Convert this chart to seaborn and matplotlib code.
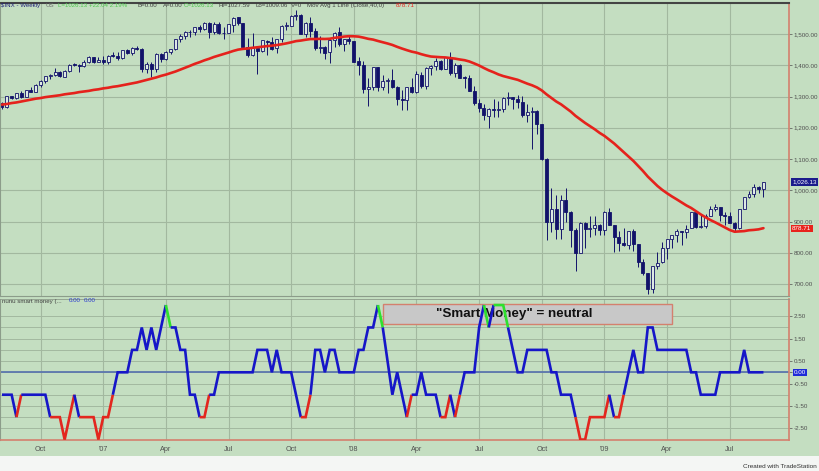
import matplotlib
matplotlib.use("Agg")
import matplotlib.pyplot as plt
import matplotlib.transforms as mtransforms
from matplotlib.patches import Rectangle
import numpy as np
import pandas as pd
import seaborn as sns

# weekly $INX bars, Aug 2006 - Aug 2009
closes = [1266.74, 1302.30, 1295.09, 1311.01, 1298.92, 1319.66, 1314.78, 1335.85, 1349.59, 1365.62,
          1368.60, 1377.34, 1364.30, 1380.90, 1401.20, 1400.95, 1396.71, 1409.84, 1427.09, 1410.76, 1418.30,
          1409.71, 1430.73, 1430.50, 1422.18, 1448.39, 1438.06, 1455.54, 1451.19, 1387.17, 1402.84,
          1386.95, 1436.11, 1420.86, 1443.76, 1452.85, 1484.35, 1494.07, 1505.62, 1505.85, 1522.75,
          1515.73, 1536.34, 1507.67, 1532.91, 1502.56, 1503.35, 1530.44, 1552.50, 1534.10, 1458.95,
          1433.06, 1453.64, 1445.94, 1479.37, 1473.99, 1453.55, 1484.25, 1525.75, 1526.75, 1557.59,
          1561.80, 1500.63, 1535.28, 1509.65, 1453.70, 1458.74, 1440.70, 1481.14, 1504.66, 1467.95,
          1484.46, 1478.49,
          1411.63, 1401.02, 1325.19, 1330.61, 1395.42, 1331.29, 1349.99, 1353.11, 1330.63, 1293.37,
          1288.14, 1329.51, 1315.22, 1370.40, 1332.83, 1390.33, 1397.84, 1413.90, 1388.28, 1425.35,
          1375.93, 1400.38, 1360.68, 1360.03, 1317.93, 1278.38, 1262.90, 1239.49, 1260.68, 1257.76,
          1260.31, 1296.32, 1298.20, 1292.20, 1282.83, 1242.31, 1251.70, 1255.08, 1213.27, 1099.23,
          899.22, 940.55, 876.77, 968.75, 930.99, 873.29, 800.03, 896.24, 876.07, 879.73, 887.88, 872.80,
          931.80, 890.35, 850.12, 831.95, 825.88, 868.60, 826.84, 770.05, 735.09, 683.38, 756.55,
          768.54, 815.94, 842.50, 856.56, 869.60, 866.23, 877.52, 929.23, 882.88, 887.00, 919.14,
          940.09, 946.21, 921.23, 918.90, 896.42, 879.13, 940.38, 979.26, 987.48, 1010.48, 1004.09, 1026.13]

opens = [1280, 1267, 1302, 1295, 1311, 1299, 1320, 1315, 1336, 1350, 1366, 1369, 1377, 1364, 1381,
         1401, 1401, 1397, 1410, 1427, 1411,
         1418, 1410, 1431, 1431, 1422, 1448, 1438, 1456, 1451, 1387, 1403, 1387, 1436, 1421, 1444,
         1453, 1484, 1494, 1506, 1506, 1523, 1516, 1536, 1508, 1533, 1503, 1503, 1530, 1553, 1534,
         1459, 1433, 1454, 1446, 1479, 1474, 1454, 1484, 1526, 1527, 1558, 1562, 1501, 1535, 1510,
         1454, 1459, 1441, 1481, 1505, 1468, 1484,
         1478, 1412, 1401, 1325, 1331, 1395, 1331, 1350, 1353, 1331, 1293, 1288, 1330, 1315, 1370,
         1333, 1390, 1398, 1414, 1388, 1425, 1376, 1400, 1361, 1360, 1318, 1278, 1263, 1239, 1261,
         1258, 1260, 1296, 1298, 1292, 1283, 1242, 1252, 1255, 1213, 1099, 899, 941, 877, 969, 931,
         873, 800, 896, 876, 880, 888,
         873, 932, 890, 850, 832, 826, 869, 827, 770, 735, 683, 757, 769, 816, 843, 857, 870, 866,
         878, 929, 883, 887, 919, 940, 946, 921, 919, 896, 879, 940, 979, 987, 1010, 1004]

highs = [1283, 1303, 1303, 1312, 1318, 1322, 1329, 1340, 1352, 1366, 1371, 1390, 1382, 1385, 1403,
         1407, 1403, 1416, 1431, 1428, 1427,
         1429, 1432, 1441, 1441, 1449, 1453, 1457, 1461, 1456, 1410, 1410, 1438, 1438, 1445, 1453,
         1485, 1499, 1511, 1514, 1523, 1529, 1540, 1540, 1539, 1537, 1521, 1532, 1556, 1556, 1534,
         1488, 1503, 1456, 1481, 1481, 1489, 1485, 1530, 1539, 1561, 1576, 1563, 1537, 1553, 1520,
         1493, 1461, 1488, 1508, 1523, 1485, 1498,
         1479, 1426, 1414, 1358, 1396, 1396, 1368, 1359, 1388, 1335, 1321, 1331, 1359, 1381, 1380,
         1395, 1400, 1422, 1416, 1426, 1441, 1406, 1405, 1366, 1370, 1333, 1291, 1277, 1263, 1291,
         1285, 1300, 1314, 1298, 1304, 1303, 1275, 1265, 1256, 1213, 1102, 1006, 985, 984, 1007, 934,
         880, 897, 897, 918, 918, 892,
         934, 943, 890, 871, 878, 870, 876, 828, 780, 735, 758, 804, 833, 845, 857, 875, 871, 889,
         930, 930, 924, 923, 951, 956, 947, 930, 931, 898, 941, 980, 997, 1019, 1013, 1028]

lows = [1261, 1263, 1291, 1292, 1294, 1298, 1313, 1313, 1331, 1344, 1356, 1365, 1361, 1362, 1378,
        1397, 1378, 1394, 1406, 1407, 1410,
        1404, 1403, 1426, 1416, 1420, 1436, 1433, 1448, 1380, 1375, 1364, 1380, 1412, 1417, 1435,
        1450, 1476, 1483, 1491, 1498, 1505, 1513, 1487, 1499, 1500, 1484, 1503, 1506, 1529, 1458,
        1427, 1429, 1371, 1444, 1432, 1450, 1439, 1474, 1514, 1527, 1546, 1500, 1490, 1492, 1450,
        1438, 1420, 1406, 1460, 1462, 1446, 1468,
        1411, 1370, 1312, 1270, 1322, 1317, 1320, 1312, 1326, 1272, 1257, 1256, 1312, 1312, 1328,
        1324, 1370, 1384, 1384, 1388, 1370, 1364, 1358, 1327, 1317, 1274, 1252, 1225, 1200, 1235,
        1235, 1249, 1274, 1261, 1263, 1236, 1217, 1133, 1180, 1098, 840, 866, 845, 845, 899, 818,
        741, 798, 815, 851, 857, 857,
        858, 888, 804, 805, 821, 812, 807, 754, 729, 667, 672, 748, 766, 779, 814, 835, 826, 847,
        878, 878, 879, 878, 919, 935, 903, 888, 896, 869, 875, 940, 974, 979, 991, 979]

# Mov Avg 1 Line (Close, 40)
ma40 = [1274, 1276, 1279, 1281, 1284, 1287, 1290, 1293, 1295, 1298, 1300, 1302, 1304, 1307, 1309,
        1311, 1314, 1316, 1318, 1321, 1323, 1326, 1328, 1331, 1333, 1336, 1339, 1342, 1345, 1349,
        1353, 1357, 1361, 1366, 1370, 1375, 1380, 1386, 1392, 1398.1,
        1404.5, 1409.8, 1415.8, 1420.8, 1426.6, 1431.2, 1435.9, 1440.7, 1445.8, 1450.0,
        1452.3, 1453.7, 1455.9, 1457.5, 1459.5, 1461.3, 1462.7, 1464.6, 1467.1, 1470.0,
        1473.4, 1477.2, 1479.0, 1481.6, 1483.8, 1483.9, 1484.5, 1484.1, 1484.8, 1487.8,
        1489.4, 1491.8, 1492.9, 1492.7, 1491.6, 1488.4, 1484.6, 1482.1, 1477.7, 1473.8,
        1469.6, 1465.0, 1458.9, 1453.4, 1448.3, 1443.6, 1440.3, 1435.4, 1431.3, 1427.9,
        1426.8, 1425.7, 1425.0, 1423.2, 1421.2, 1418.4, 1416.1, 1411.9, 1405.7, 1399.1,
        1391.2, 1383.7, 1377.6, 1370.7, 1365.4, 1361.5, 1357.3, 1353.4, 1347.4, 1341.1,
        1335.8, 1329.0, 1319.5, 1306.7, 1295.2, 1284.0, 1274.9, 1263.3, 1251.9, 1238.1,
        1226.7, 1215.3, 1205.0, 1195.0, 1183.6, 1174.0, 1162.0, 1149.9, 1136.0, 1121.7,
        1108.0, 1094.0, 1077.6, 1061.6, 1043.7, 1028.6, 1013.8, 1001.2, 990.3, 980.2,
        970.9, 961.0, 951.5, 943.3, 932.9, 922.6, 913.3, 904.7, 897.3, 889.1,
        880.7, 872.8, 867.3, 868.3, 869.3, 872.0, 873.1, 874.9, 878.7]

# nunu smart money indicator
smart_money = [-1, -1, -1, -2, -1, -1, -1, -1, -1, -1,
               -2, -2, -2, -3, -2, -1, -2, -2, -2, -2,
               -3, -2, -2, -1, 0, 0, 0, 1, 1, 2,
               1, 2, 1, 2, 3, 2, 2, 1, 1, -1,
               -1, -2, -2, -1, -1, 0, 0, 0, 0, 0,
               0, 0, 0, 1, 1, 1, 0, 1, 0, 0,
               0, -1, -2, -2, -1, 1, 1, 0, 1, 1,
               0, 0, 0, 0, 1, 1, 2, 2, 3, 2,
               0.5, -1, 0, -1, -2, -1, -1, 0, -1, -1,
               -1, -2, -2, -1, -2, -1, 0, 0, 0, 2,
               3, 2, 3, 3, 3, 2, 1, 0, 0, 1,
               1, 1, 1, 1, 0, 0, -1, -1, -1, -2,
               -3, -3, -2, -2, -2, -2, -1, -2, -2, -1,
               0, 1, 0, 0, 2, 2, 1, 1, 1, 1,
               1, 1, 1, 0, 0, -1, -1, -1, -1, 0,
               0, 0, 0, 0, 1, 0, 0, 0, 0]

tick_pos = [8, 21, 34, 47, 60, 73, 86, 99, 112, 125, 138, 151]
tick_labels = ["Oct", "'07", "Apr", "Jul", "Oct", "'08", "Apr", "Jul", "Oct", "'09", "Apr", "Jul"]
price_ticks = [700, 800, 900, 1000, 1100, 1200, 1300, 1400, 1500]
sm_ticks = [2.5, 1.5, 0.5, 0.0, -0.5, -1.5, -2.5]

df = pd.DataFrame({"week": np.arange(len(closes)), "open": opens, "high": highs,
                   "low": lows, "close": closes, "ma": ma40, "sm": smart_money})

BG = "#c4dec1"
GRID = "#a2b89f"
NAVY = "#12126a"
EDGE_RED = "#d4806e"

sns.set_style("white")
plt.rcParams["font.family"] = ["Liberation Sans", "DejaVu Sans"]

W, H = 820, 471
fig = plt.figure(figsize=(W / 100, H / 100), dpi=100)
fig.patch.set_facecolor(BG)

def fx(px):
    return px / W

def fy(py):
    return 1 - py / H

ax1 = fig.add_axes([0, fy(296), fx(789), (296 - 3) / H])
ax2 = fig.add_axes([0, fy(440), fx(789), (440 - 299) / H])

xlim = (-0.415, 163.3)

# ---- price panel ----
ax1.set_facecolor(BG)
ax1.set_xlim(*xlim)
ax1.set_ylim(661.6, 1599.2)
for p in price_ticks:
    ax1.axhline(p, color=GRID, lw=0.8, zorder=0)
for t in tick_pos:
    ax1.axvline(t, color=GRID, lw=0.8, zorder=0)

up = df["close"] >= df["open"]
ax1.vlines(df["week"], df["low"], df["high"], color=NAVY, lw=0.7, zorder=2)
body_bot = np.minimum(df["open"], df["close"])
body_h = np.maximum(np.abs(df["close"] - df["open"]), 1.5)
ax1.bar(df["week"], body_h, bottom=body_bot, width=0.62,
        color=np.where(up, "#dde9e4", NAVY), edgecolor=NAVY, lw=0.6, zorder=3)
sns.lineplot(data=df, x="week", y="ma", ax=ax1, color="#e5221c", lw=1.9, zorder=4)

ax1.yaxis.tick_right()
ax1.set_yticks(price_ticks)
ax1.set_yticklabels([f"{p:,.2f}" for p in price_ticks])
ax1.tick_params(axis="y", labelsize=4.5, colors="#505050", length=2, pad=1.5, width=0.5)
ax1.set_xticks(tick_pos)
ax1.tick_params(axis="x", length=0, labelbottom=False)
ax1.set_xlabel("")
ax1.set_ylabel("")
for s in ["left", "bottom"]:
    ax1.spines[s].set_color("#8c9c8a")
    ax1.spines[s].set_linewidth(0.8)
ax1.spines["top"].set_color("#444444")
ax1.spines["top"].set_linewidth(1.5)
ax1.spines["right"].set_color(EDGE_RED)
ax1.spines["right"].set_linewidth(1.2)

tr1 = mtransforms.blended_transform_factory(ax1.transAxes, ax1.transData)
ax1.text(1.004, closes[-1], f"{closes[-1]:,.2f}", transform=tr1, fontsize=4.5, color="white",
         va="center", ha="left", bbox=dict(facecolor="#1b1b8c", edgecolor="none", pad=0.8), zorder=6)
ax1.text(1.004, ma40[-1] + 0.01, "878.71", transform=tr1, fontsize=4.5, color="white",
         va="center", ha="left", bbox=dict(facecolor="#e8231c", edgecolor="none", pad=0.8), zorder=6)

# ---- smart money panel ----
ax2.set_facecolor(BG)
ax2.set_xlim(*xlim)
ax2.set_ylim(-3.02, 3.27)
for g in np.arange(-2.5, 3.0, 0.5):
    ax2.axhline(g, color=GRID, lw=0.7, zorder=0)
for t in tick_pos:
    ax2.axvline(t, color=GRID, lw=0.8, zorder=0)
ax2.axhline(0, color="#5b76ae", lw=1.3, zorder=1)

ax2.add_patch(Rectangle((79, 2.16), 60, 0.89, facecolor="#c8c8c8", edgecolor=EDGE_RED,
                        lw=1.0, zorder=2))
ax2.text(106.3, 2.62, '"Smart Money" = neutral', fontsize=9.6, fontweight="bold",
         color="#111111", ha="center", va="center", zorder=3)

def seg_color(v):
    if v >= 3:
        return "#2ee02e"
    if v <= -2:
        return "#e3261e"
    return "#1616c8"

wk = df["week"].to_numpy()
sm = df["sm"].to_numpy(dtype=float)
start = 0
for i in range(1, len(sm)):
    c = seg_color(sm[start])
    if i == len(sm) - 1 or seg_color(sm[i]) != c:
        ax2.plot(wk[start:i + 1], sm[start:i + 1], color=c, lw=1.9, zorder=4,
                 solid_joinstyle="miter", solid_capstyle="butt")
        start = i

ax2.yaxis.tick_right()
ax2.set_yticks(sm_ticks)
ax2.set_yticklabels([f"{v:.2f}" for v in sm_ticks])
ax2.tick_params(axis="y", labelsize=4.5, colors="#505050", length=2, pad=1.5, width=0.5)
ax2.set_xticks(tick_pos)
ax2.set_xticklabels(tick_labels)
ax2.tick_params(axis="x", labelsize=5.2, colors="#505050", length=0, pad=4)
for lab in ax2.get_yticklabels():
    if lab.get_text() == "0.00":
        lab.set_color("white")
        lab.set_bbox(dict(facecolor="#1f2bd8", edgecolor="none", pad=0.8))
ax2.spines["left"].set_color("#8c9c8a")
ax2.spines["top"].set_color("#8c9c8a")
ax2.spines["top"].set_linewidth(0.6)
ax2.spines["bottom"].set_color(EDGE_RED)
ax2.spines["bottom"].set_linewidth(1.2)
ax2.spines["right"].set_color(EDGE_RED)
ax2.spines["right"].set_linewidth(1.2)

# ---- header texts ----
hy = fy(5.5)
header = [(1, "$INX - Weekly", "#22227a"), (46, "US", "#6a6a6a"),
          (58, "L=1026.13 +22.04 2.19%", "#4ec84e"), (138, "B=0.00", "#404040"),
          (163, "A=0.00", "#404040"), (184, "C=1026.13", "#4ec84e"),
          (219, "Hi=1027.59", "#404040"), (256, "Lo=1009.06", "#404040"),
          (291, "V=0", "#404040"), (307, "Mov Avg 1 Line (Close,40,0)", "#404040"),
          (396, "878.71", "#e8231c")]
for x, s, c in header:
    fig.text(fx(x), hy, s, fontsize=4.4, color=c, va="center", ha="left")

fig.text(fx(2), fy(301), "nunu smart money (...", fontsize=4.4, color="#404040", va="center")
fig.text(fx(69), fy(301), "0.00", fontsize=4.4, color="#2a3ad0", va="center")
fig.text(fx(84), fy(301), "0.00", fontsize=4.4, color="#2a3ad0", va="center")

# bottom strip
fig.add_artist(Rectangle((0, 0), 1, 15 / H, transform=fig.transFigure,
                         facecolor="#f4f6f4", edgecolor="none", zorder=-1))
fig.text(fx(817), fy(466), "Created with TradeStation", fontsize=4.6, color="#303030",
         ha="right", va="center")

fig.savefig("out.png", dpi=100, facecolor=BG)
